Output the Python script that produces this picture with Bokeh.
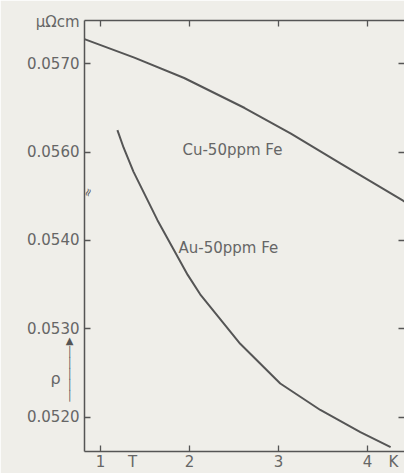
from bokeh.plotting import figure
from bokeh.models import LinearAxis, FixedTicker, Range1d, Label
from bokeh.embed import file_html
from bokeh.resources import INLINE

# Resistivity (micro-ohm cm) versus temperature (K)
cu_T = [0.82, 1.38, 1.94, 2.62, 3.14, 3.70, 4.40, 4.46]
cu_rho = [0.05728, 0.05707, 0.05684, 0.05650, 0.05621, 0.05587, 0.05545, 0.05541]

au_T = [1.19, 1.26, 1.37, 1.64, 1.98, 2.12, 2.57, 3.02, 3.47, 3.92, 4.26]
au_rho = [0.05525, 0.05505, 0.05478, 0.05423, 0.05361, 0.05339, 0.05283,
          0.05238, 0.05208, 0.05183, 0.05166]

y_ticks = [0.0520, 0.0530, 0.0540, 0.0560, 0.0570]
y_tick_labels = ["0.0520", "0.0530", "0.0540", "0.0560", "0.0570"]
x_ticks = [1, 2, 3, 4]
x_tick_labels = ["1", "2", "3", "4"]

cu_label = "Cu-50ppm Fe"
au_label = "Au-50ppm Fe"

# The vertical axis is broken between 0.0540 and 0.0560: the Cu curve and the
# two upper tick values belong to the upper segment, drawn shifted down.
BREAK_SHIFT = 0.0010
upper_ticks = [False, False, False, True, True]

# where the unit and the quantity names sit along the axes
UNIT_Y = 0.056469      # "μΩcm" beside the top of the ρ axis
T_NAME_X = 1.36        # "T" among the temperature labels
K_UNIT_X = 4.292       # "K" after the last temperature label

# the upward ρ arrow left of the tick labels
ARROW_X = 0.652
ARROW_MID = 0.05255

INK = "#555555"
TXT = "#666666"
BG = "#efeee9"
FONT = "DejaVu Sans"

p = figure(width=404, height=473, output_backend="svg", toolbar_location=None,
           x_axis_location=None, y_axis_location=None,
           min_border_left=84, min_border_top=20, min_border_bottom=22,
           min_border_right=0)
p.x_range = Range1d(0.8202, 4.416)
p.y_range = Range1d(0.05161, 0.056491)
p.background_fill_color = BG
p.border_fill_color = BG
p.outline_line_color = None
p.xgrid.visible = False
p.ygrid.visible = False

tick_pos = [v - BREAK_SHIFT if up else v for v, up in zip(y_ticks, upper_ticks)]


def style(ax):
    ax.axis_line_color = INK
    ax.axis_line_width = 1.5
    ax.major_tick_line_color = INK
    ax.major_tick_line_width = 1.3
    ax.major_tick_in = 6
    ax.major_tick_out = 0
    ax.minor_tick_line_color = INK
    ax.minor_tick_line_width = 1.3
    ax.minor_tick_in = 6
    ax.minor_tick_out = 0
    ax.major_label_text_color = TXT
    ax.major_label_text_font = FONT
    ax.major_label_text_font_size = "15px"
    ax.major_label_standoff = 5


def blank_labels(ax, ticks):
    ax.major_label_overrides = {t: "" for t in ticks}
    ax.major_label_standoff = 0


# left axis: tick marks come from the minor ticks, the labels (values plus
# the unit) from the major ticks
left = LinearAxis(ticker=FixedTicker(ticks=tick_pos + [UNIT_Y], minor_ticks=tick_pos))
left_over = {pos: lab for pos, lab in zip(tick_pos, y_tick_labels)}
left_over[UNIT_Y] = "μΩcm"
left.major_label_overrides = left_over
style(left)
left.major_tick_line_color = None
p.add_layout(left, "left")

right = LinearAxis(ticker=FixedTicker(ticks=tick_pos))
style(right)
blank_labels(right, tick_pos)
right.axis_line_color = None
p.add_layout(right, "right")

bottom = LinearAxis(ticker=FixedTicker(ticks=x_ticks + [T_NAME_X, K_UNIT_X],
                                       minor_ticks=x_ticks))
bottom_over = {t: s for t, s in zip(x_ticks, x_tick_labels)}
bottom_over[T_NAME_X] = "T"
bottom_over[K_UNIT_X] = "K"
bottom.major_label_overrides = bottom_over
style(bottom)
bottom.major_tick_line_color = None
bottom.major_label_standoff = 1
p.add_layout(bottom, "below")

top = LinearAxis(ticker=FixedTicker(ticks=x_ticks))
style(top)
blank_labels(top, x_ticks)
p.add_layout(top, "above")

# curves
p.line(cu_T, [v - BREAK_SHIFT for v in cu_rho], line_color=INK, line_width=2)
p.line(au_T, au_rho, line_color=INK, line_width=2)

# curve names
p.add_layout(Label(x=1.921, y=0.05503, text=cu_label, text_font=FONT,
                   text_font_size="15px", text_color=TXT,
                   text_baseline="middle"))
p.add_layout(Label(x=1.876, y=0.05392, text=au_label, text_font=FONT,
                   text_font_size="15px", text_color=TXT,
                   text_baseline="middle"))

# axis-break mark on the ρ axis
p.add_layout(Label(x=0.862, y=0.054544, text="≈", text_font=FONT,
                   text_font_size="11px", text_color=INK, angle=1.2,
                   text_align="center", text_baseline="middle"))

# quantity symbol and its upward arrow beside the tick labels
p.add_layout(Label(x=0.494, y=0.05244, text="ρ", text_font=FONT,
                   text_font_size="16px", text_color=TXT,
                   text_align="center", text_baseline="middle"), "left")
p.add_layout(Label(x=ARROW_X, y=ARROW_MID, text="▲\n│\n│\n│\n│\n│",
                   text_font=FONT, text_font_size="10px", text_color=INK,
                   text_line_height=1.0, text_align="center",
                   text_baseline="middle"), "left")

open("out.html", "w").write(file_html(p, INLINE))
